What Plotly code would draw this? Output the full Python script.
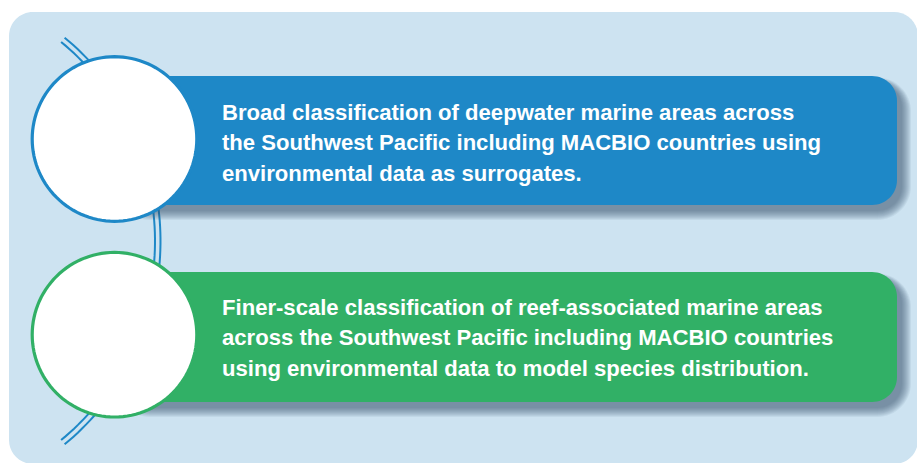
import numpy as np
import plotly.graph_objects as go

# ---- content ----
box_texts = [
    ["Broad classification of deepwater marine areas across",
     "the Southwest Pacific including MACBIO countries using",
     "environmental data as surrogates."],
    ["Finer-scale classification of reef-associated marine areas",
     "across the Southwest Pacific including MACBIO countries",
     "using environmental data to model species distribution."],
]
box_colors = ["#1e88c7", "#31b066"]

W, H = 917, 463
PANEL = "#cde3f1"
LINE_BLUE = "#1e88c7"
FONT = "Liberation Sans, Arial, sans-serif"
FS = 22.1


def rrect(x0, y0, x1, y1, r):
    k = 0.5523 * r
    return (f"M {x0+r},{y0} L {x1-r},{y0} C {x1-r+k},{y0} {x1},{y0+r-k} {x1},{y0+r} "
            f"L {x1},{y1-r} C {x1},{y1-r+k} {x1-r+k},{y1} {x1-r},{y1} "
            f"L {x0+r},{y1} C {x0+r-k},{y1} {x0},{y1-r+k} {x0},{y1-r} "
            f"L {x0},{y0+r} C {x0},{y0+r-k} {x0+r-k},{y0} {x0+r},{y0} Z")


def circ(cx, cy, r, n=120):
    t = np.linspace(0, 2 * np.pi, n, endpoint=False)
    pts = [f"{cx + r*np.cos(a):.2f},{cy + r*np.sin(a):.2f}" for a in t]
    return "M " + " L ".join(pts) + " Z"


def arc(cx, cy, r, a0, a1, n=80):
    t = np.radians(np.linspace(a0, a1, n))
    pts = [f"{cx + r*np.cos(a):.2f},{cy + r*np.sin(a):.2f}" for a in t]
    return "M " + " L ".join(pts)


shapes = []
shapes.append(dict(type="path", path=rrect(9, 12, 918, 464, 24), fillcolor=PANEL,
                   line=dict(width=0), layer="above"))
for rr in (258, 263.5):
    shapes.append(dict(type="path", path=arc(-103, 241, rr, -50.5, 50.5),
                       line=dict(color=LINE_BLUE, width=2), layer="above"))

boxes = [(76, 205, 139, 84), (272, 402, 334.7, 84)]
for (y0, y1, cy, r), col in zip(boxes, box_colors):
    for e in range(9, -1, -1):
        shapes.append(dict(type="path",
                           path=rrect(125 - e, y0 + 7 - e * 0.6, 897 + 5 + e, y1 + 6 + e, 25 + e),
                           fillcolor="rgba(55,80,105,0.075)", line=dict(width=0), layer="above"))
    shapes.append(dict(type="path", path=rrect(120, y0, 897, y1, 25), fillcolor=col,
                       line=dict(width=0), layer="above"))
    shapes.append(dict(type="path", path=circ(114.5, cy, r - 1.7), fillcolor="white",
                       line=dict(color=col, width=3.2), layer="above"))

annotations = []
baselines = [[120, 150.5, 181.5], [315, 345.5, 376.5]]
for lines, bls in zip(box_texts, baselines):
    for txt, bl in zip(lines, bls):
        annotations.append(dict(x=220, y=bl - 0.36 * FS, xref="x", yref="y", text=txt,
                                showarrow=False, xanchor="left", yanchor="middle",
                                font=dict(family=FONT, size=FS, color="white", weight="bold")))

fig = go.Figure()
fig.add_trace(go.Scatter(x=[0, W], y=[0, H], mode="markers", marker=dict(opacity=0),
                         hoverinfo="skip", showlegend=False))
fig.update_layout(width=W, height=H, margin=dict(l=0, r=0, t=0, b=0),
                  paper_bgcolor="white", plot_bgcolor="white",
                  xaxis=dict(range=[0, W], visible=False, fixedrange=True),
                  yaxis=dict(range=[H, 0], visible=False, fixedrange=True),
                  shapes=shapes, annotations=annotations, showlegend=False)
fig.write_html("out.html", config={"displayModeBar": False},
               post_script="document.body.style.margin='0';document.body.style.overflow='hidden';")
